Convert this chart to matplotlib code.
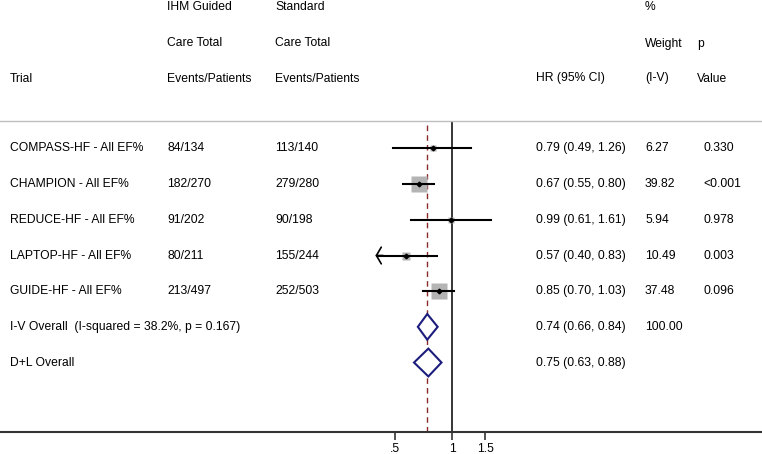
import numpy as np
import matplotlib
matplotlib.use('Agg')
import matplotlib.pyplot as plt
from matplotlib.transforms import blended_transform_factory

plt.rcParams['font.family'] = ['Liberation Sans', 'DejaVu Sans']

# study rows
trials = ['COMPASS-HF - All EF%', 'CHAMPION - All EF%', 'REDUCE-HF - All EF%',
          'LAPTOP-HF - All EF%', 'GUIDE-HF - All EF%']
ihm = ['84/134', '182/270', '91/202', '80/211', '213/497']
std = ['113/140', '279/280', '90/198', '155/244', '252/503']
hr = [0.79, 0.67, 0.99, 0.57, 0.85]
lo = [0.49, 0.55, 0.61, 0.40, 0.70]
hi = [1.26, 0.80, 1.61, 0.83, 1.03]
weight = [6.27, 39.82, 5.94, 10.49, 37.48]
pval = ['0.330', '<0.001', '0.978', '0.003', '0.096']

# pooled rows
pooled = ['I-V Overall  (I-squared = 38.2%, p = 0.167)', 'D+L Overall']
pooled_hr = [0.74, 0.75]
pooled_lo = [0.66, 0.63]
pooled_hi = [0.84, 0.88]
pooled_w = ['100.00', '']

xticks = [0.5, 1, 1.5]
xticklabels = ['.5', '1', '1.5']
clip_lo = 0.40

W, H = 762, 454
fig = plt.figure(figsize=(W / 100, H / 100), dpi=100)

# axes in pixel terms: top 121, bottom 432, full width
top_px, bot_px = 121, 432
ax = fig.add_axes([0, 1 - bot_px / H, 1, (bot_px - top_px) / H])

# log x scale: 1 at px 452, 82.2 px per ln unit
x1, k = 452, 82.2
ax.set_xscale('log')
ax.set_xlim(np.exp(-x1 / k), np.exp((W - x1) / k))
row_px = 35.67
first_px = 148.5
ax.set_ylim(-(bot_px - first_px) / row_px, (first_px - top_px) / row_px)

fs = 8.7
n = len(trials)
ys = -np.arange(n)
ys_pool = -np.arange(n, n + 2)

# reference lines
ax.axvline(1, color='black', lw=1.1, zorder=1)
ax.axvline(pooled_hr[0], color='#8b2a2a', lw=1.0, ls=(0, (4, 3)), zorder=1)

for i in range(n):
    y = ys[i]
    side = 2.6 * np.sqrt(weight[i]) * 0.72
    ax.plot(hr[i], y, marker='s', ms=side, color='#b4b4b4', mec='none', zorder=2)
    if lo[i] <= clip_lo:
        ax.plot([clip_lo, hi[i]], [y, y], color='black', lw=1.5, zorder=3)
        ax.annotate('', xy=(clip_lo * 0.985, y), xytext=(clip_lo * 1.08, y),
                    arrowprops=dict(arrowstyle='->, head_length=0.35, head_width=0.6',
                                    lw=1.2, color='black', shrinkA=0, shrinkB=0), zorder=3)
    else:
        ax.plot([lo[i], hi[i]], [y, y], color='black', lw=1.5, zorder=3)
    ax.plot(hr[i], y, marker='D', ms=2.4, color='black', zorder=4)

dh = [0.36, 0.39]
for j in range(2):
    y = ys_pool[j]
    ax.fill([pooled_lo[j], pooled_hr[j], pooled_hi[j], pooled_hr[j]],
            [y, y + dh[j], y, y - dh[j]], facecolor='white', edgecolor='#1c1c7c',
            lw=1.5, zorder=5)

for s in ['left', 'right']:
    ax.spines[s].set_visible(False)
ax.spines['top'].set_color('#bdbdbd')
ax.spines['top'].set_linewidth(1.0)
ax.spines['bottom'].set_color('#333333')
ax.spines['bottom'].set_linewidth(1.5)
ax.set_yticks([])
ax.set_xticks(xticks)
ax.set_xticklabels(xticklabels, fontsize=fs)
ax.minorticks_off()
ax.tick_params(axis='x', length=6, width=1.2, color='#333333', pad=2)

# text columns
tr = blended_transform_factory(fig.transFigure, ax.transData)
cols = {'trial': 10, 'ihm': 167, 'std': 275, 'hr': 536, 'w': 645, 'p': 703}

def put(xpx, y, s):
    ax.text(xpx / W, y, s, transform=tr, fontsize=fs, va='center', ha='left')

for i in range(n):
    y = ys[i]
    put(cols['trial'], y, trials[i])
    put(cols['ihm'], y, ihm[i])
    put(cols['std'], y, std[i])
    put(cols['hr'], y, f'{hr[i]:.2f} ({lo[i]:.2f}, {hi[i]:.2f})')
    put(cols['w'], y, f'{weight[i]:.2f}')
    put(cols['p'], y, pval[i])

for j in range(2):
    y = ys_pool[j]
    put(cols['trial'], y, pooled[j])
    put(cols['hr'], y, f'{pooled_hr[j]:.2f} ({pooled_lo[j]:.2f}, {pooled_hi[j]:.2f})')
    put(cols['w'], y, pooled_w[j])

# header
def head(xpx, ypx, s):
    fig.text(xpx / W, 1 - ypx / H, s, fontsize=fs, va='center', ha='left')

head(cols['ihm'], 7.5, 'IHM Guided')
head(cols['std'], 7.5, 'Standard')
head(cols['w'], 7.5, '%')
head(cols['ihm'], 43.5, 'Care Total')
head(cols['std'], 43.5, 'Care Total')
head(cols['w'], 43.5, 'Weight')
head(697, 43.5, 'p')
head(cols['trial'], 78.5, 'Trial')
head(cols['ihm'], 78.5, 'Events/Patients')
head(cols['std'], 78.5, 'Events/Patients')
head(cols['hr'], 78.5, 'HR (95% CI)')
head(cols['w'], 78.5, '(I-V)')
head(697, 78.5, 'Value')

fig.savefig('out.png', dpi=100)
